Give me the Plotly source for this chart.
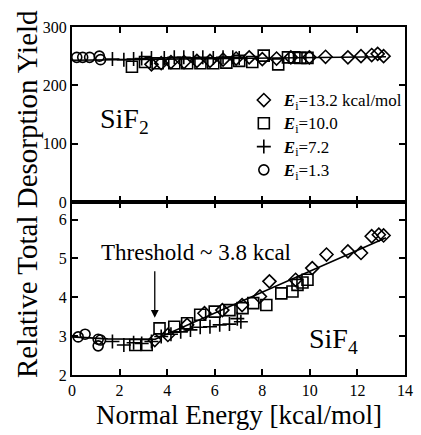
import plotly.graph_objects as go

# ---------------- data ----------------
# SiF2 panel (top)
sif2_circ_x = [0.2, 0.45, 0.74, 1.15, 1.2]
sif2_circ_y = [248, 248, 248, 250, 244]
sif2_plus_x = [1.7, 2.18, 2.59, 2.93, 3.34, 3.88, 4.3, 4.7, 5.1, 5.5, 5.94, 6.35, 6.76, 7.03]
sif2_plus_y = [245, 244, 245, 246, 247, 247, 248, 248, 247, 248, 247, 248, 248, 247]
sif2_sq_x = [2.52, 3.07, 3.6, 4.3, 4.84, 5.4, 5.94, 6.49, 7.03, 7.58, 8.06, 8.67, 9.08, 9.35, 9.6, 9.9]
sif2_sq_y = [232, 240, 238, 238, 238, 238, 238, 239, 242, 240, 251, 236, 248, 248, 247, 247]
sif2_dia_x = [3.34, 3.75, 4.16, 4.71, 5.25, 5.8, 6.35, 6.9, 7.45, 8.0, 8.6, 9.2, 9.98, 10.66, 11.6, 12.15, 12.6, 12.85, 13.1]
sif2_dia_y = [236, 238, 240, 240, 242, 242, 244, 246, 248, 245, 246, 248, 248, 249, 248, 250, 252, 254, 250]
sif2_fit_x = [0.0, 13.2]
sif2_fit_y = [243, 249]

# SiF4 panel (bottom)
sif4_circ_x = [0.26, 0.55, 1.1, 1.1, 1.2]
sif4_circ_y = [2.98, 3.05, 2.92, 2.75, 2.9]
sif4_plus_x = [1.7, 2.18, 2.59, 2.93, 3.34, 3.75, 4.16, 4.57, 4.98, 5.39, 5.8, 6.21, 6.62, 6.95, 7.1]
sif4_plus_y = [2.86, 2.77, 2.83, 2.81, 2.86, 2.99, 3.05, 3.11, 3.16, 3.23, 3.24, 3.29, 3.31, 3.45, 3.37]
sif4_sq_x = [2.66, 3.14, 3.68, 4.3, 4.84, 5.39, 6.0, 6.62, 7.17, 7.62, 8.17, 8.8, 9.27, 9.48, 9.69, 9.9]
sif4_sq_y = [2.77, 2.77, 3.2, 3.24, 3.33, 3.55, 3.63, 3.67, 3.72, 3.85, 3.8, 4.1, 4.15, 4.32, 4.38, 4.45]
sif4_dia_x = [3.48, 4.03, 4.84, 5.57, 6.32, 7.15, 7.9, 8.3, 9.4, 10.1, 10.7, 11.6, 12.15, 12.6, 12.9, 13.1]
sif4_dia_y = [2.9, 3.03, 3.29, 3.59, 3.67, 3.8, 4.02, 4.41, 4.45, 4.75, 5.1, 5.18, 5.14, 5.57, 5.61, 5.59]
sif4_fit_x = [0.0, 1.5, 3.5, 13.2]
sif4_fit_y = [2.98, 2.93, 2.92, 5.53]

legend_labels = [
    "<b><i>E</i></b><sub>i</sub>=13.2 kcal/mol",
    "<b><i>E</i></b><sub>i</sub>=10.0",
    "<b><i>E</i></b><sub>i</sub>=7.2",
    "<b><i>E</i></b><sub>i</sub>=1.3",
]

FONT = "Liberation Serif"
fig = go.Figure()

def mk(sym, size):
    return dict(symbol=sym, size=size, color="black", line=dict(color="black", width=1.6))

# fits
fig.add_trace(go.Scatter(x=sif2_fit_x, y=sif2_fit_y, mode="lines", line=dict(color="black", width=1.6),
                         showlegend=False, xaxis="x", yaxis="y"))
fig.add_trace(go.Scatter(x=sif4_fit_x, y=sif4_fit_y, mode="lines", line=dict(color="black", width=1.6),
                         showlegend=False, xaxis="x2", yaxis="y2"))

sets = [
    (sif2_dia_x, sif2_dia_y, sif4_dia_x, sif4_dia_y, "diamond-open", 10, legend_labels[0]),
    (sif2_sq_x, sif2_sq_y, sif4_sq_x, sif4_sq_y, "square-open", 11, legend_labels[1]),
    (sif2_plus_x, sif2_plus_y, sif4_plus_x, sif4_plus_y, "cross-thin-open", 10, legend_labels[2]),
    (sif2_circ_x, sif2_circ_y, sif4_circ_x, sif4_circ_y, "circle-open", 10, legend_labels[3]),
]
for i, (x1, y1, x2, y2, sym, sz, lab) in enumerate(sets):
    fig.add_trace(go.Scatter(x=x1, y=y1, mode="markers", marker=mk(sym, sz),
                             name=f'<span style="font-size:17px">{lab}</span>',
                             legendgroup=f"g{i}", showlegend=True, xaxis="x", yaxis="y"))
    fig.add_trace(go.Scatter(x=x2, y=y2, mode="markers", marker=mk(sym, sz), name=lab,
                             legendgroup=f"g{i}", showlegend=False, xaxis="x2", yaxis="y2"))

ax_common = dict(showline=True, linewidth=2, linecolor="black", mirror="allticks",
                 ticks="inside", ticklen=6, tickwidth=1.5, tickcolor="black",
                 showgrid=False, zeroline=False,
                 tickfont=dict(family=FONT, size=16, color="black"))

split = 0.497
fig.update_layout(
    width=421, height=435,
    margin=dict(l=72, r=8, t=27, b=60),
    paper_bgcolor="white", plot_bgcolor="white",
    font=dict(family=FONT, color="black"),
    xaxis=dict(domain=[0, 1], anchor="y", range=[0, 14], dtick=2, showticklabels=False, **ax_common),
    yaxis=dict(domain=[split, 1], anchor="x", range=[0, 300], dtick=100, **ax_common),
    xaxis2=dict(domain=[0, 1], anchor="y2", range=[0, 14], dtick=2, **ax_common),
    yaxis2=dict(domain=[0, split], anchor="x2", range=[2, 6.45], tickvals=[2, 3, 4, 5, 6], **ax_common),
    legend=dict(x=0.516, y=0.838, xanchor="left", yanchor="top", bgcolor="rgba(0,0,0,0)",
                font=dict(family=FONT, size=15.6, color="black"), tracegroupgap=0,
                itemwidth=30),
    showlegend=True,
)

fig.add_annotation(text="Relative Total Desorption Yield", xref="paper", yref="paper",
                   x=-0.135, y=0.52, xanchor="center", yanchor="middle", textangle=-90, showarrow=False,
                   font=dict(family=FONT, size=29, color="black"))
fig.add_annotation(text="Normal Energy [kcal/mol]", xref="paper", yref="paper",
                   x=0.5, y=-0.116, xanchor="center", yanchor="middle", showarrow=False,
                   font=dict(family=FONT, size=27, color="black"))
fig.add_annotation(text="SiF<sub>2</sub>", xref="x", yref="y", x=2.2, y=140,
                   xanchor="center", yanchor="middle",
                   showarrow=False, font=dict(family=FONT, size=28, color="black"))
fig.add_annotation(text="SiF<sub>4</sub>", xref="x2", yref="y2", x=11.0, y=2.9,
                   xanchor="center", yanchor="middle",
                   showarrow=False, font=dict(family=FONT, size=28, color="black"))
fig.add_annotation(text="Threshold ~ 3.8 kcal", xref="x2", yref="y2", x=5.2, y=5.15,
                   xanchor="center", yanchor="middle",
                   showarrow=False, font=dict(family=FONT, size=23, color="black"))
fig.add_annotation(x=3.48, y=3.47, ax=3.48, ay=4.71, xref="x2", yref="y2", axref="x2", ayref="y2",
                   text="", showarrow=True, arrowhead=2, arrowsize=1.2, arrowwidth=1.3, arrowcolor="black")

fig.write_html("out.html")
